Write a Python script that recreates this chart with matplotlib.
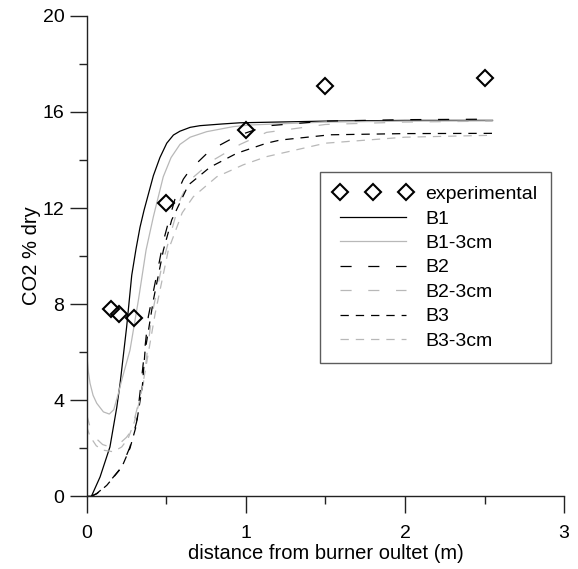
import matplotlib
matplotlib.use("Agg")
import matplotlib.pyplot as plt
from matplotlib.ticker import MultipleLocator

plt.rcParams['font.family'] = ['Liberation Sans', 'DejaVu Sans']
plt.rcParams['lines.scale_dashes'] = False

# experimental points
exp_x = [0.15, 0.2, 0.3, 0.5, 1.0, 1.5, 2.5]
exp_y = [7.8, 7.6, 7.4, 12.2, 15.25, 17.1, 17.4]

# model curves
b1_x = [0.0, 0.03, 0.084, 0.146, 0.189, 0.21, 0.251, 0.283, 0.31, 0.335, 0.36, 0.419, 0.46, 0.503,
        0.545, 0.586, 0.65, 0.712, 0.85, 0.964, 1.5, 2.0, 2.55]
b1_y = [0.0, 0.0, 0.8, 2.05, 3.7, 4.7, 7.05, 9.2, 10.3, 11.2, 11.9, 13.35, 14.1, 14.7,
        15.04, 15.2, 15.36, 15.43, 15.5, 15.55, 15.62, 15.65, 15.65]

b1cm_x = [0.0, 0.01, 0.021, 0.04, 0.063, 0.105, 0.142, 0.17, 0.199, 0.22, 0.272, 0.325, 0.373,
          0.419, 0.481, 0.53, 0.586, 0.65, 0.754, 0.921, 1.03, 1.5, 2.0, 2.55]
b1cm_y = [5.96, 5.2, 4.7, 4.2, 3.87, 3.51, 3.42, 3.6, 4.28, 4.83, 6.08, 8.17, 10.25,
          11.64, 13.3, 14.1, 14.65, 14.95, 15.18, 15.39, 15.46, 15.58, 15.62, 15.63]

b2_x = [0.03, 0.063, 0.126, 0.22, 0.272, 0.314, 0.34, 0.387, 0.45, 0.481, 0.513, 0.56, 0.607,
        0.65, 0.775, 0.943, 1.13, 1.5, 2.0, 2.55]
b2_y = [0.0, 0.11, 0.46, 1.22, 2.05, 3.1, 4.6, 7.47, 9.55, 10.6, 11.4, 12.5, 13.2,
        13.6, 14.4, 15.0, 15.42, 15.62, 15.68, 15.7]

b2cm_x = [0.0, 0.02, 0.06, 0.1, 0.146, 0.2, 0.25, 0.283, 0.314, 0.356, 0.408, 0.471, 0.534,
          0.59, 0.65, 0.796, 0.964, 1.13, 1.5, 2.0, 2.55]
b2cm_y = [3.4, 2.9, 2.4, 2.15, 2.05, 2.15, 2.45, 2.75, 3.58, 4.7, 7.47, 9.55, 11.08,
          12.4, 13.17, 14.0, 14.65, 15.15, 15.48, 15.58, 15.62]

b3_x = [0.03, 0.063, 0.126, 0.22, 0.272, 0.31, 0.35, 0.366, 0.419, 0.482, 0.534, 0.639,
        0.775, 0.943, 1.13, 1.215, 1.53, 2.0, 2.55]
b3_y = [0.0, 0.1, 0.45, 1.2, 2.0, 2.9, 4.6, 6.0, 8.17, 10.25, 11.5, 12.96,
        13.7, 14.28, 14.7, 14.83, 15.05, 15.1, 15.11]

b3cm_x = [0.0, 0.02, 0.06, 0.1, 0.167, 0.22, 0.26, 0.3, 0.34, 0.37, 0.43, 0.513, 0.544,
          0.6, 0.67, 0.817, 0.984, 1.13, 1.5, 2.0, 2.55]
b3cm_y = [2.9, 2.5, 2.1, 1.92, 1.85, 2.05, 2.4, 3.1, 4.2, 5.3, 7.6, 10.25, 10.8,
          11.8, 12.47, 13.3, 13.8, 14.14, 14.7, 14.95, 15.03]

labels = ['experimental', 'B1', 'B1-3cm', 'B2', 'B2-3cm', 'B3', 'B3-3cm']

grey = '#b8b8b8'
long_dash = (0, (8, 12))
short_dash = (0, (6, 5))

fig = plt.figure(figsize=(5.78, 5.69), dpi=100)
ax = fig.add_axes([0.150, 0.128, 0.826, 0.844])

ax.plot(exp_x, exp_y, linestyle='none', marker='D', markersize=8, markerfacecolor='none',
        markeredgecolor='black', markeredgewidth=1.5, label=labels[0], zorder=5)
ax.plot(b1_x, b1_y, color='black', lw=0.9, label=labels[1])
ax.plot(b1cm_x, b1cm_y, color=grey, lw=0.9, label=labels[2])
ax.plot(b2_x, b2_y, color='black', lw=0.9, linestyle=long_dash, label=labels[3])
ax.plot(b2cm_x, b2cm_y, color=grey, lw=0.9, linestyle=long_dash, label=labels[4])
ax.plot(b3_x, b3_y, color='black', lw=0.9, linestyle=short_dash, label=labels[5])
ax.plot(b3cm_x, b3cm_y, color=grey, lw=0.9, linestyle=short_dash, label=labels[6])

ax.set_xlim(0, 3)
ax.set_ylim(0, 20)
ax.xaxis.set_major_locator(MultipleLocator(1))
ax.xaxis.set_minor_locator(MultipleLocator(0.5))
ax.yaxis.set_major_locator(MultipleLocator(4))
ax.yaxis.set_minor_locator(MultipleLocator(2))

for s in ['top', 'right']:
    ax.spines[s].set_visible(False)
for s in ['left', 'bottom']:
    ax.spines[s].set_linewidth(1.0)
    ax.spines[s].set_color('#222222')

ax.tick_params(which='major', direction='out', length=12, width=1.0, color='#222222',
               labelsize=14)
ax.tick_params(axis='x', which='major', pad=9)
ax.tick_params(axis='y', which='major', pad=4)
ax.tick_params(which='minor', direction='out', length=6, width=1.0, color='#222222')

ax.set_xlabel('distance from burner oultet (m)', fontsize=14.5, labelpad=1)
ax.set_ylabel('CO2 % dry', fontsize=14.5, labelpad=1)

leg = ax.legend(loc='upper left', bbox_to_anchor=(0.489, 0.675), borderaxespad=0,
                numpoints=3, handlelength=4, handletextpad=0.72, labelspacing=0.35,
                fontsize=14, frameon=True, fancybox=False, borderpad=0.7)
leg.get_frame().set_edgecolor('#333333')
leg.get_frame().set_linewidth(1.0)

fig.savefig('out.png', dpi=100)
